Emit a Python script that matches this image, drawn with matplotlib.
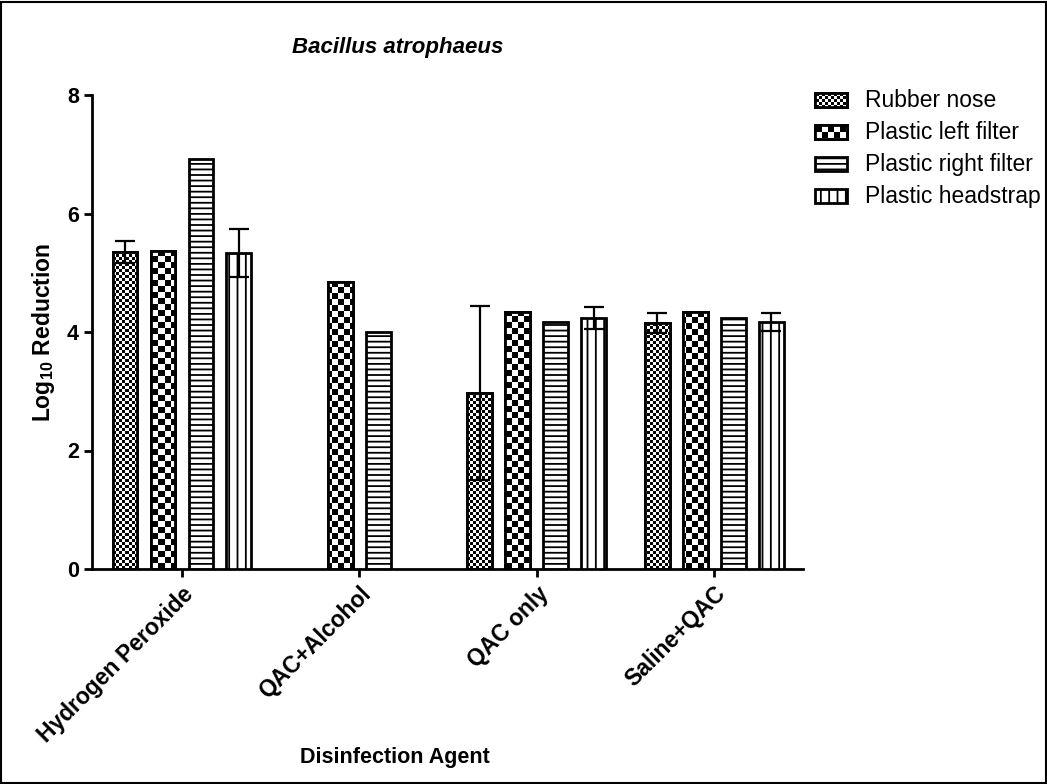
import numpy as np
import matplotlib
matplotlib.use("Agg")
import matplotlib.pyplot as plt
from matplotlib.patches import Rectangle

plt.rcParams['font.family'] = ['Liberation Sans', 'DejaVu Sans']
plt.rcParams['mathtext.fontset'] = 'custom'
plt.rcParams['mathtext.rm'] = 'Liberation Sans'
plt.rcParams['mathtext.bf'] = 'Liberation Sans:bold'
plt.rcParams['hatch.linewidth'] = 1.3

# data
agents = ['Hydrogen Peroxide', 'QAC+Alcohol', 'QAC only', 'Saline+QAC']
surfaces = ['Rubber nose', 'Plastic left filter', 'Plastic right filter', 'Plastic headstrap']
rubber_nose = [5.35, np.nan, 2.97, 4.15]
left_filter = [5.37, 4.84, 4.34, 4.33]
right_filter = [6.92, 4.00, 4.17, 4.24]
headstrap = [5.33, np.nan, 4.24, 4.17]
rubber_nose_err = [0.18, np.nan, 1.47, 0.17]
headstrap_err = [0.40, np.nan, 0.19, 0.15]

W, H = 1047, 784
fig = plt.figure(figsize=(W / 100, H / 100), dpi=100)

# axes box in pixels
ax_l, ax_r, ax_t, ax_b = 92, 803, 95, 569
ax = fig.add_axes([ax_l / W, 1 - ax_b / H, (ax_r - ax_l) / W, (ax_b - ax_t) / H])
xlim = (-0.507, 3.5)
ylim = (0, 8)


def pattern(kind, h, w):
    i, j = np.indices((h, w))
    if kind == 'fine':
        return ((i // 3 + j // 3) % 2).astype(float)
    if kind == 'coarse':
        return ((i // 6 + j // 6) % 2).astype(float)
    return np.zeros((h, w))


def fill_pattern(axis, patch, kind, extent, shape):
    img = axis.imshow(pattern(kind, *shape), cmap='gray_r', vmin=0, vmax=1,
                      extent=extent, interpolation='nearest', aspect='auto', zorder=2)
    img.set_clip_path(patch)


x = np.arange(len(agents))
width = 0.14
step = 0.214
series = [rubber_nose, left_filter, right_filter, headstrap]
styles = [('fine', ''), ('coarse', ''), (None, '---'), (None, '||')]
errs = {0: rubber_nose_err, 3: headstrap_err}
shape = (ax_b - ax_t, ax_r - ax_l)

for k, (vals, (kind, hatch)) in enumerate(zip(series, styles)):
    pos = x + (k - 1.5) * step
    bars = ax.bar(pos, vals, width, color='white', edgecolor='black',
                  linewidth=2, hatch=hatch, zorder=3 if kind is None else 1)
    if kind is not None:
        for b in bars:
            fill_pattern(ax, b, kind, (*xlim, *ylim), shape)
        # outline on top of the pattern
        ax.bar(pos, vals, width, color='none', edgecolor='black', linewidth=2, zorder=3)
    if k in errs:
        e = np.array(errs[k])
        ok = ~np.isnan(e)
        ax.errorbar(pos[ok], np.array(vals)[ok], yerr=e[ok], fmt='none', ecolor='black',
                    elinewidth=1.6, capsize=7, capthick=1.6, zorder=4)

ax.set_xlim(*xlim)
ax.set_ylim(*ylim)
ax.spines['top'].set_visible(False)
ax.spines['right'].set_visible(False)
ax.spines['left'].set_linewidth(2)
ax.spines['bottom'].set_linewidth(2)
ax.set_yticks([0, 2, 4, 6, 8])
ax.set_xticks(x)
ax.set_xticklabels(agents, rotation=45, ha='right', rotation_mode='anchor',
                   fontsize=16.5, fontweight='bold')
ax.tick_params(axis='both', direction='out', length=6, width=2)
ax.tick_params(axis='y', labelsize=15.5)
for t in ax.get_yticklabels():
    t.set_fontweight('bold')

fig.text(398 / W, 1 - 47 / H, 'Bacillus atrophaeus', ha='center', va='center',
         fontsize=16, fontweight='bold', fontstyle='italic')
fig.text(395 / W, 1 - 757 / H, 'Disinfection Agent', ha='center', va='center',
         fontsize=15.5, fontweight='bold')
fig.text(44 / W, 1 - 332 / H, r'Log$_{\mathbf{10}}$ Reduction', ha='center', va='center',
         rotation=90, fontsize=16.5, fontweight='bold')

# legend drawn in pixel coordinates
lax = fig.add_axes([0, 0, 1, 1])
lax.set_xlim(0, W)
lax.set_ylim(H, 0)
lax.axis('off')
rows = [100, 132, 164, 196]
for name, (kind, hatch), y in zip(surfaces, styles, rows):
    r = Rectangle((815, y - 7), 32, 14, facecolor='white', edgecolor='black',
                  linewidth=2, hatch=hatch, zorder=3 if kind is None else 1)
    lax.add_patch(r)
    if kind is not None:
        fill_pattern(lax, r, kind, (0, W, H, 0), (H, W))
        lax.add_patch(Rectangle((815, y - 7), 32, 14, facecolor='none',
                                edgecolor='black', linewidth=2, zorder=3))
    lax.text(865, y, name, ha='left', va='center', fontsize=16.5)
lax.set_xlim(0, W)
lax.set_ylim(H, 0)

# outer frame
fig.patches.append(Rectangle((0.001, 0.001), 0.998, 0.997, transform=fig.transFigure,
                             fill=False, edgecolor='black', linewidth=1.5))

fig.savefig('out.png', dpi=100)
